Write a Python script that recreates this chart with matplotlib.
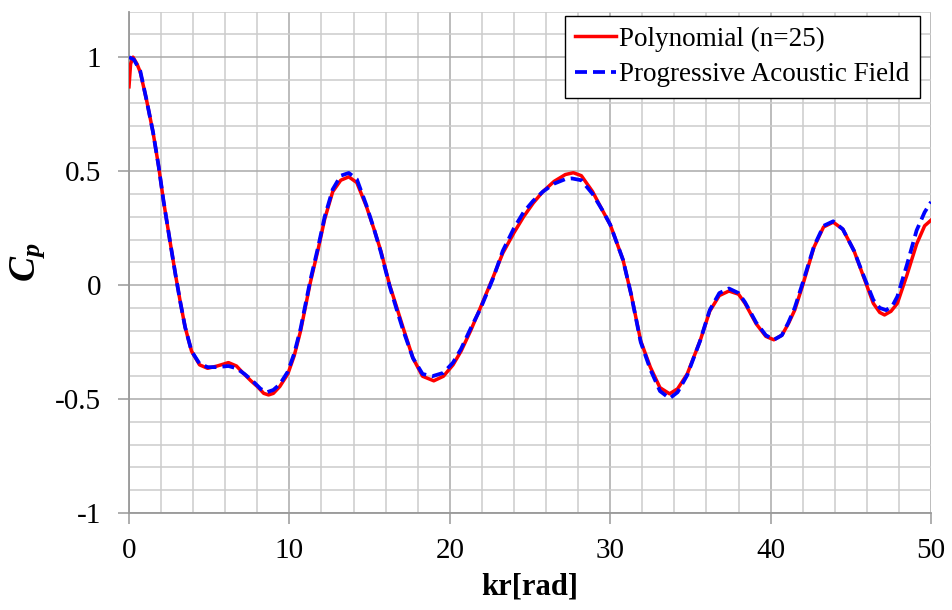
import matplotlib
matplotlib.use("Agg")
import matplotlib.pyplot as plt
from matplotlib.ticker import MultipleLocator

plt.rcParams['font.family'] = ['Liberation Serif', 'DejaVu Serif']
plt.rcParams['axes.unicode_minus'] = False
plt.rcParams['mathtext.fontset'] = 'custom'
plt.rcParams['mathtext.it'] = 'Liberation Serif:bold:italic'
plt.rcParams['mathtext.rm'] = 'Liberation Serif:bold'

# Polynomial (n=25)
poly_kr = [0.0, 0.1, 0.25, 0.5, 0.7, 1.1, 1.5, 1.85, 2.15, 2.55, 2.9, 3.2, 3.5, 3.9, 4.4,
           4.9, 5.5, 6.2, 6.7, 7.1, 7.6, 8.0, 8.4, 8.7, 9.0, 9.4, 9.9, 10.3, 10.7, 11.3,
           11.8, 12.2, 12.7, 13.2, 13.7, 14.2, 14.8, 15.3, 15.7, 16.25, 16.7, 17.1, 17.7,
           18.3, 19.0, 19.6, 20.2, 20.7, 21.3, 21.9, 22.7, 23.3, 24.0, 24.6, 25.2, 25.8,
           26.5, 27.2, 27.7, 28.2, 28.9, 29.5, 30.0, 30.8, 31.3, 31.9, 32.5, 33.1, 33.7,
           34.2, 34.8, 35.6, 36.2, 36.8, 37.4, 38.0, 38.4, 39.1, 39.7, 40.2, 40.7, 41.1,
           41.5, 42.0, 42.7, 43.3, 43.9, 44.5, 45.2, 45.8, 46.4, 46.8, 47.1, 47.5, 47.9,
           48.5, 49.1, 49.6, 50.0]
poly_cp = [0.87, 0.97, 1.0, 0.97, 0.935, 0.81, 0.67, 0.52, 0.37, 0.195, 0.045, -0.075, -0.185,
           -0.29, -0.35, -0.365, -0.355, -0.34, -0.355, -0.385, -0.42, -0.445, -0.475, -0.482,
           -0.475, -0.445, -0.39, -0.31, -0.20, 0.01, 0.16, 0.29, 0.41, 0.46, 0.475, 0.45,
           0.345, 0.24, 0.15, 0.0, -0.10, -0.19, -0.32, -0.40, -0.42, -0.40, -0.35, -0.29,
           -0.20, -0.10, 0.035, 0.14, 0.23, 0.30, 0.36, 0.41, 0.455, 0.485, 0.493, 0.48,
           0.41, 0.33, 0.265, 0.11, -0.04, -0.245, -0.36, -0.45, -0.477, -0.455, -0.39,
           -0.245, -0.115, -0.046, -0.026, -0.04, -0.08, -0.17, -0.225, -0.24, -0.22, -0.17,
           -0.11, 0.0, 0.166, 0.255, 0.276, 0.245, 0.15, 0.035, -0.08, -0.12, -0.131, -0.115,
           -0.08, 0.045, 0.18, 0.26, 0.285]

# Progressive Acoustic Field
paf_kr = [0.0, 0.3, 0.7, 1.1, 1.5, 1.85, 2.15, 2.55, 2.9, 3.2, 3.5, 3.9, 4.4, 4.9, 5.5,
          6.2, 6.7, 7.2, 7.7, 8.2, 8.6, 9.0, 9.4, 9.9, 10.3, 10.7, 11.3, 11.8, 12.2, 12.7,
          13.2, 13.7, 14.2, 14.8, 15.3, 15.7, 16.25, 16.7, 17.1, 17.7, 18.3, 18.9, 19.6,
          20.2, 20.7, 21.3, 21.9, 22.7, 23.3, 24.0, 24.6, 25.2, 25.8, 26.5, 27.2, 27.6,
          28.2, 28.9, 29.5, 30.0, 30.8, 31.3, 31.9, 32.5, 33.1, 33.7, 34.2, 34.8, 35.6,
          36.2, 36.8, 37.4, 38.0, 38.4, 39.1, 39.7, 40.2, 40.7, 41.1, 41.5, 42.0, 42.7,
          43.3, 43.9, 44.5, 45.2, 45.8, 46.4, 46.8, 47.2, 47.6, 47.9, 48.5, 49.1, 49.6, 50.0]
paf_cp = [1.0, 0.99, 0.94, 0.81, 0.67, 0.52, 0.37, 0.195, 0.045, -0.075, -0.185, -0.29, -0.345,
          -0.36, -0.36, -0.355, -0.365, -0.39, -0.42, -0.455, -0.47, -0.46, -0.435, -0.38,
          -0.30, -0.19, 0.02, 0.17, 0.30, 0.42, 0.48, 0.492, 0.465, 0.35, 0.24, 0.145,
          -0.005, -0.11, -0.20, -0.32, -0.39, -0.40, -0.385, -0.34, -0.28, -0.19, -0.105,
          0.03, 0.15, 0.25, 0.32, 0.37, 0.41, 0.445, 0.465, 0.468, 0.46, 0.40, 0.33, 0.265,
          0.11, -0.04, -0.25, -0.37, -0.465, -0.497, -0.47, -0.395, -0.245, -0.11, -0.035,
          -0.015, -0.035, -0.075, -0.165, -0.22, -0.24, -0.22, -0.165, -0.10, 0.01, 0.17,
          0.26, 0.28, 0.245, 0.15, 0.04, -0.065, -0.10, -0.11, -0.09, -0.05, 0.09, 0.24,
          0.32, 0.365]

series_labels = ["Polynomial (n=25)", "Progressive Acoustic Field"]
x_ticks = [0, 10, 20, 30, 40, 50]
y_ticks = [-1, -0.5, 0, 0.5, 1]
y_ticklabels = ["-1", "-0.5", "0", "0.5", "1"]

fig = plt.figure(figsize=(9.52, 6.10), dpi=100)
ax = fig.add_axes([0.1355, 0.159, 0.8425, 0.822])

ax.plot(poly_kr, poly_cp, color='#ff0000', lw=2.5, label=series_labels[0], zorder=3)
ax.plot(paf_kr, paf_cp, color='#0000ff', lw=2.7, dashes=(3.2, 1.6), label=series_labels[1], zorder=4)

ax.set_xlim(0, 50)
ax.set_ylim(-1, 1.2)
ax.set_xticks(x_ticks)
ax.set_yticks(y_ticks)
ax.set_yticklabels(y_ticklabels)
ax.xaxis.set_minor_locator(MultipleLocator(2))
ax.yaxis.set_minor_locator(MultipleLocator(0.1))

ax.grid(which='major', color='#aaaaaa', lw=1.1)
ax.grid(which='minor', color='#cccccc', lw=1.1)
ax.set_axisbelow(True)

for side in ['top', 'right']:
    ax.spines[side].set_visible(False)
for side in ['left', 'bottom']:
    ax.spines[side].set_color('#999999')
    ax.spines[side].set_linewidth(1.3)

ax.tick_params(which='major', direction='out', length=8, width=1.1, color='#999999',
               labelsize=21)
ax.tick_params(axis='x', which='major', pad=10)
ax.tick_params(axis='y', which='major', pad=12)
ax.tick_params(which='minor', length=0)

ax.set_xlabel('kr[rad]', fontsize=22, fontweight='bold', labelpad=6)
ax.set_ylabel(r'$C_p$', fontsize=27, labelpad=6)

leg = ax.legend(loc='upper right', fontsize=19.5, frameon=True, fancybox=False,
                edgecolor='black', handlelength=1.5, handletextpad=0.1,
                borderpad=0.4, labelspacing=0.4, borderaxespad=0,
                bbox_to_anchor=(0.986, 0.992))
leg.get_frame().set_linewidth(1.0)
leg.get_frame().set_alpha(1.0)

fig.savefig('out.png', dpi=100)
